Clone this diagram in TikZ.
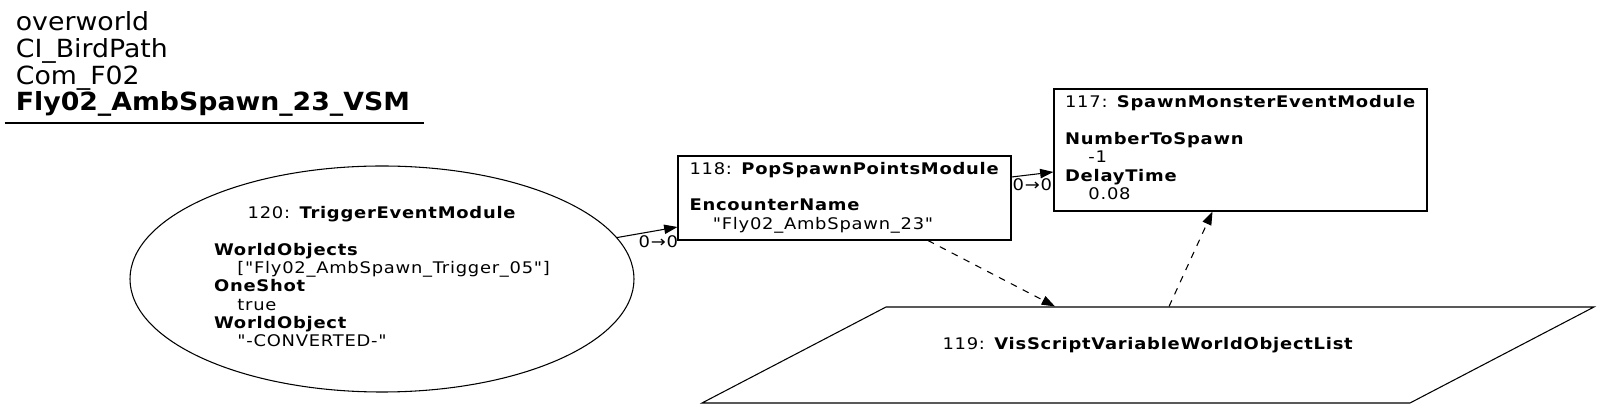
\documentclass[tikz,border=0pt]{standalone}
\usepackage{fontspec}
\setmainfont{DejaVu Sans}
\newfontfamily\nodefont{DejaVu Sans}[FakeStretch=1.12, LetterSpace=4.7]
\newfontfamily\titlefont{DejaVu Sans}[FakeStretch=1.07]
\usetikzlibrary{shapes.geometric, arrows.meta, calc}
\newcommand\valind{\hspace*{17.5pt}}

\begin{document}
\begin{tikzpicture}[
    x=0.75pt, y=-0.75pt,
    >={Triangle[length=10pt, width=7pt]},
    font=\nodefont\fontsize{12}{13.7}\selectfont,
    box/.style  ={draw, rectangle, line width=0.8pt, inner sep=0pt},
    blob/.style ={draw, ellipse, line width=0.8pt, inner sep=0pt},
    vsvar/.style={draw, trapezium, trapezium left angle=27.55,
                  trapezium right angle=152.45, trapezium stretches body,
                  line width=0.8pt, inner xsep=0pt, inner ysep=22.3pt},
    link/.style ={->, line width=0.8pt},
    varlink/.style={link, dash pattern=on 5pt off 5pt},
    port/.style ={anchor=north east, inner sep=0pt}
  ]
  \useasboundingbox (0,0) rectangle (1600,409);

  % ---- graph title -----------------------------------------------------
  \node[anchor=base west, inner sep=0pt,
        font=\titlefont\fontsize{18.75}{19.8}\selectfont] (title) at (15.6,30.7)
    {\begin{tabular}[t]{@{}l@{}}overworld\\CI\_BirdPath\\Com\_F02\\
     \textbf{Fly02\_AmbSpawn\_23\_VSM}\end{tabular}};
  \draw[line width=0.8pt] (4.5,123) -- (424,123);

  % ---- modules ---------------------------------------------------------
  \node[blob, minimum width=378pt, minimum height=169.5pt] (e120) at (382,279)
    {\begin{tabular}{@{}l@{}}
     \multicolumn{1}{@{}c@{}}{120: \textbf{TriggerEventModule}}\\
     \\
     \textbf{WorldObjects}\\
     \valind["Fly02\_AmbSpawn\_Trigger\_05"]\\
     \textbf{OneShot}\\
     \valind true\\
     \textbf{WorldObject}\\
     \valind"-CONVERTED-"
     \end{tabular}};

  \node[box, minimum width=249.75pt, minimum height=63pt] (b118) at (844.5,198)
    {\begin{tabular}{@{}l@{}}
     118: \textbf{PopSpawnPointsModule}\\
     \\
     \textbf{EncounterName}\\
     \valind"Fly02\_AmbSpawn\_23"
     \end{tabular}};

  \node[box, minimum width=279.75pt, minimum height=91.5pt] (b117) at (1240.5,150)
    {\begin{tabular}{@{}l@{}}
     117: \textbf{SpawnMonsterEventModule}\\
     \\
     \textbf{NumberToSpawn}\\
     \valind-1\\
     \textbf{DelayTime}\\
     \valind 0.08
     \end{tabular}};

  \node[vsvar, minimum width=669pt] (v119) at (1148,355)
    {\begin{tabular}{@{}l@{}}
     119: \textbf{VisScriptVariableWorldObjectList}\\
     \\
     \end{tabular}};

  % ---- links -----------------------------------------------------------
  \draw[link] (e120.10) -- ($(b118.west)+(0,29)$)
    node[port, at end, xshift=0.8pt, yshift=-6.2pt] {0→0};
  \draw[link] ($(b118.east)+(0,-21)$) -- ($(b117.west)+(0,22)$)
    node[port, at end, xshift=-0.7pt, yshift=-4.7pt] {0→0};

  % ---- variable lookups (dashed) ---------------------------------------
  \draw[varlink] ($(b118.south)+(83.5,0)$) -- ($(v119.north)+(-93,0)$);
  \draw[varlink] ($(v119.north)+(21,0)$) -- ($(b117.south)+(-28,0)$);

\end{tikzpicture}
\end{document}
